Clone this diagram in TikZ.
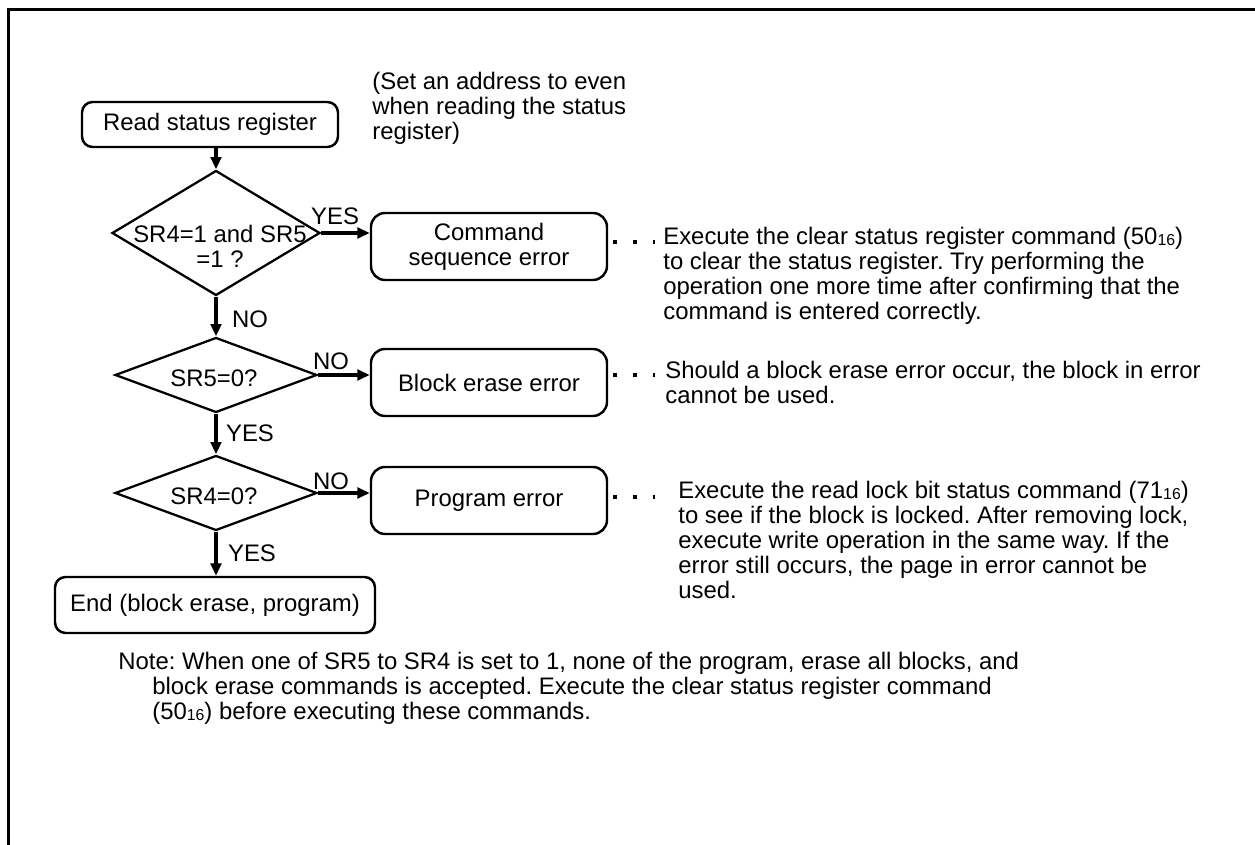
\documentclass[tikz,border=0pt]{standalone}
\usepackage{fontspec}
\setmainfont{Liberation Sans}
\usetikzlibrary{shapes.geometric,arrows.meta,positioning,calc}
\newcommand{\hexsub}[1]{\raisebox{-0.6pt}{\fontsize{9}{9}\selectfont #1}}
\frenchspacing

\begin{document}
\begin{tikzpicture}[
  every node/.style={font=\fontsize{13.6}{14.2}\selectfont},
  procbox/.style={rectangle, draw, line width=1.4pt, rounded corners=6pt, inner sep=0pt, align=center},
  errbox/.style={procbox, rounded corners=8pt, minimum width=4.72cm, minimum height=1.34cm},
  decision/.style={diamond, draw, line width=1.3pt, inner sep=0pt},
  flowarrow/.style={-{Triangle[length=7pt,width=6pt]}, line width=2pt},
  dotsline/.style={line width=0.07cm, dash pattern=on 0.07cm off 0.33cm},
  remark/.style={anchor=north west, align=left, inner sep=0pt},
  lbl/.style={inner sep=0pt}
]
\useasboundingbox (0,0) rectangle (25.1,-16.9);
% frame (top and left edge only)
\draw[line width=0.06cm] (25.1,-0.2) -- (0.16,-0.2) -- (0.16,-16.9);

% main column
\node[procbox, minimum width=5.12cm, minimum height=0.9cm] (read) at (4.2,-2.49) {Read status register};
\node[decision, minimum width=4.16cm, minimum height=2.5cm] (dec1) at (4.32,-4.66) {};
\node[lbl, align=center] (dec1txt) at ($(dec1.center)+(0.08,-0.27)$) {SR4=1 and SR5\\=1 ?};
\node[decision, minimum width=4.04cm, minimum height=1.5cm] (dec2) at (4.32,-7.5) {};
\node[lbl] (dec2txt) at ($(dec2.center)+(-0.04,-0.06)$) {SR5=0?};
\node[decision, minimum width=4.04cm, minimum height=1.5cm] (dec3) at (4.32,-9.86) {};
\node[lbl] (dec3txt) at ($(dec3.center)+(-0.04,-0.06)$) {SR4=0?};
\node[procbox, minimum width=6.4cm, minimum height=1.12cm] (finish) at (4.3,-12.1) {End (block erase, program)};

% error boxes
\node[errbox] (cmderr) at (9.78,-4.93) {Command\\sequence error};
\node[errbox] (blkerr) at (9.78,-7.65) {Block erase error};
\node[errbox] (prgerr) at (9.78,-10.01) {Program error};

% arrows
\draw[flowarrow] (read.south -| dec1.north) -- (dec1.north);
\draw[flowarrow] (dec1.south) -- (dec2.north);
\draw[flowarrow] (dec2.south) -- (dec3.north);
\draw[flowarrow] (dec3.south) -- (dec3.south |- finish.north);
\draw[flowarrow] (dec1.east) -- (dec1.east -| cmderr.west);
\draw[flowarrow] (dec2.east) -- (dec2.east -| blkerr.west);
\draw[flowarrow] (dec3.east) -- (dec3.east -| prgerr.west);

% branch labels
\node[lbl] (yes1) at ($(dec1.east)+(0.28,0.34)$) {YES};
\node[lbl] (no1) at ($(dec1.south)+(0.68,-0.46)$) {NO};
\node[lbl] (no2) at ($(dec2.east)+(0.26,0.28)$) {NO};
\node[lbl] (yes2) at ($(dec2.south)+(0.68,-0.39)$) {YES};
\node[lbl] (no3) at ($(dec3.east)+(0.26,0.24)$) {NO};
\node[lbl] (yes3) at ($(dec3.south)+(0.72,-0.44)$) {YES};

% remarks
\node[remark] (addrnote) at (7.44,-1.44) {(Set an address to even\\when reading the status\\register)};
\node[remark] (note1) at (13.26,-4.54) {Execute the clear status register command (50\hexsub{16})\\to clear the status register. Try performing the\\operation one more time after confirming that the\\command is entered correctly.};
\node[remark] (note2) at (13.3,-7.22) {Should a block erase error occur, the block in error\\cannot be used.};
\node[remark] (note3) at (13.56,-9.62) {Execute the read lock bit status command (71\hexsub{16})\\to see if the block is locked. After removing lock,\\execute write operation in the same way. If the\\error still occurs, the page in error cannot be\\used.};

% dotted leaders
\coordinate (dot1) at (13.1,-4.84);
\coordinate (dot2) at (13.1,-7.5);
\coordinate (dot3) at (13.1,-9.94);
\draw[dotsline] ([xshift=0.1cm]cmderr.east |- dot1) -- (dot1);
\draw[dotsline] ([xshift=0.1cm]blkerr.east |- dot2) -- (dot2);
\draw[dotsline] ([xshift=0.1cm]prgerr.east |- dot3) -- (dot3);

% note below
\node[remark] (footnote) at (2.36,-13.04) {Note: When one of SR5 to SR4 is set to 1, none of the program, erase all blocks, and\\\hspace*{0.68cm}block erase commands is accepted. Execute the clear status register command\\\hspace*{0.68cm}(50\hexsub{16}) before executing these commands.};
\end{tikzpicture}
\end{document}
